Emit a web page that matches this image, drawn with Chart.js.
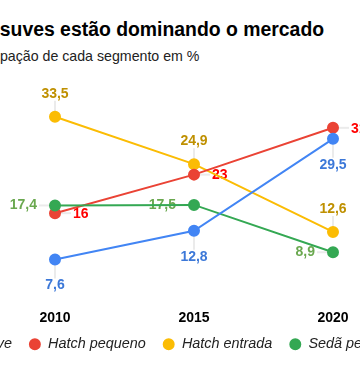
<!DOCTYPE html>
<html>
<head>
<meta charset="utf-8">
<script src="https://cdn.jsdelivr.net/npm/chart.js@4"></script>
<style>
  html, body { margin: 0; padding: 0; background: #fff; }
  body { width: 360px; height: 366px; overflow: hidden; position: relative; font-family: "Liberation Sans", Arial, sans-serif; }
  #title { position: absolute; left: -31.5px; top: 20px; font-size: 19.4px; line-height: 19.5px; font-weight: bold; color: #000; white-space: nowrap; }
  #subtitle { position: absolute; left: -39.5px; top: 48.5px; font-size: 14.2px; line-height: 14px; color: #222; white-space: nowrap; }
  #wrap { position: absolute; left: -69px; top: 0; }
</style>
</head>
<body>
<div id="title">Os suves estão dominando o mercado</div>
<div id="subtitle">Participação de cada segmento em %</div>
<div id="wrap"><canvas id="lineChart" width="500" height="366"></canvas></div>
<script>
// data
const years = ["2010", "2015", "2020"];
const seriesNames = ["Suve", "Hatch pequeno", "Hatch entrada", "Sedã pequeno"];
const suve = [7.6, 12.8, 29.5];
const hatchPequeno = [16, 23, 31.5];
const hatchEntrada = [33.5, 24.9, 12.6];
const sedaPequeno = [17.4, 17.5, 8.9];

const lineColors = ["#4285f4", "#ea4335", "#fbbc04", "#34a853"];
const textColors = ["#3c78d8", "#ff0000", "#bf9000", "#6aa84f"];
const labelSide = ["below", "right", "above", "left"];
const drawOrder = [0, 2, 3, 1];

Chart.defaults.font.family = '"Liberation Sans", Arial, sans-serif';

const valueLabels = {
  id: "valueLabels",
  afterLayout(chart) {
    // pull the legend up closer to the year labels
    chart.legend.top -= 14;
    chart.legend.bottom -= 14;
  },
  beforeDatasetsDraw(chart) {
    const ctx = chart.ctx;
    ctx.save();
    chart.data.datasets.forEach((ds, i) => {
      const meta = chart.getDatasetMeta(i);
      meta.data.forEach((pt, j) => {
        const x = pt.x, y = pt.y;
        const txt = String(ds.data[j]).replace(".", ",");
        const side = labelSide[i];
        // stem
        ctx.strokeStyle = "#ebebeb";
        ctx.lineWidth = 2;
        ctx.beginPath();
        ctx.moveTo(x, y);
        if (side == "above") ctx.lineTo(x, y - 16);
        if (side == "below") ctx.lineTo(x, y + 19);
        if (side == "right") ctx.lineTo(x + 16, y);
        if (side == "left") ctx.lineTo(x - 16, y);
        ctx.stroke();
        // text
        ctx.fillStyle = textColors[i];
        ctx.font = 'bold 14px "Liberation Sans", Arial, sans-serif';
        ctx.textBaseline = "middle";
        if (side == "above") { ctx.textAlign = "center"; ctx.fillText(txt, x, y - 23); }
        if (side == "below") { ctx.textAlign = "center"; ctx.fillText(txt, x, y + 26); }
        if (side == "right") { ctx.textAlign = "left"; ctx.fillText(txt, x + 18, y + 1); }
        if (side == "left") { ctx.textAlign = "right"; ctx.fillText(txt, x - 18, y); }
      });
    });
    ctx.restore();
  }
};

const allData = [suve, hatchPequeno, hatchEntrada, sedaPequeno];

let myChart = document.getElementById("lineChart").getContext("2d");

let segChart = new Chart(myChart, {
  type: "line",
  data: {
    labels: years,
    datasets: allData.map((d, i) => ({
      label: seriesNames[i],
      data: d,
      borderColor: lineColors[i],
      backgroundColor: lineColors[i],
      pointBackgroundColor: lineColors[i],
      pointBorderColor: lineColors[i],
      borderWidth: 2,
      pointRadius: 5,
      pointBorderWidth: 2,
      tension: 0,
      order: drawOrder[i],
    })),
  },
  options: {
    responsive: false,
    animation: false,
    layout: {
      padding: { left: 0, right: 0, top: 81, bottom: -9.5 },
    },
    scales: {
      x: {
        offset: true,
        grid: { display: false, drawTicks: false },
        border: { display: false },
        ticks: { color: "#000", padding: 8, font: { size: 14, weight: "bold" } },
      },
      y: {
        min: 0, max: 40,
        ticks: { display: false },
        grid: { display: false },
        border: { display: false },
        afterFit(scale) { scale.width = 54.5; },
      },
      yRight: {
        position: "right",
        min: 0, max: 40,
        ticks: { display: false },
        grid: { display: false },
        border: { display: false },
        afterFit(scale) { scale.width = 28.5; },
      },
    },
    plugins: {
      tooltip: { enabled: false },
      legend: {
        position: "bottom",
        labels: {
          usePointStyle: true,
          pointStyle: "circle",
          boxWidth: 12,
          boxHeight: 7.07,
          padding: 17,
          color: "#222",
          font: { size: 14.4, style: "italic" },
          sort: (a, b) => a.datasetIndex - b.datasetIndex,
        },
      },
    },
  },
  plugins: [valueLabels],
});
</script>
</body>
</html>
